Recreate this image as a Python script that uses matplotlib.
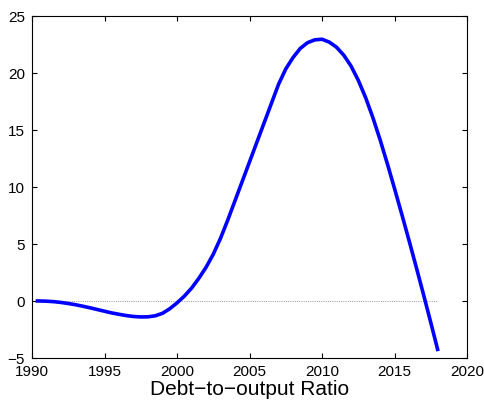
import matplotlib
matplotlib.use('Agg')
import matplotlib.pyplot as plt
import numpy as np

plt.rcParams['font.family'] = ['Liberation Sans', 'DejaVu Sans']
plt.rcParams['axes.unicode_minus'] = True

# half-yearly observations, first one in spring 1990
years = np.concatenate([[1990.25], np.arange(1990.5, 2018.01, 0.5)])
ratio = [0.0, 0.0, -0.02, -0.06, -0.13, -0.22, -0.33, -0.46, -0.6, -0.75,
         -0.9, -1.05, -1.17, -1.28, -1.36, -1.4, -1.39, -1.3, -1.08, -0.68,
         -0.17, 0.42, 1.12, 1.98, 2.95, 4.1, 5.5, 7.1, 8.8, 10.5,
         12.2, 13.9, 15.6, 17.3, 19.0, 20.35, 21.35, 22.15, 22.65, 22.9,
         22.95, 22.7, 22.25, 21.55, 20.6, 19.35, 17.85, 16.1, 14.15, 12.05,
         9.85, 7.6, 5.3, 2.95, 0.55, -1.9, -4.4]
xticks = [1990, 1995, 2000, 2005, 2010, 2015, 2020]
yticks = [-5, 0, 5, 10, 15, 20, 25]

fig = plt.figure(figsize=(4.85, 4.02), dpi=100)
ax = fig.add_axes([0.066, 0.107, 0.897, 0.851])

ax.plot(years, np.zeros(len(years)), ':', color='0.45', linewidth=0.6)
ax.plot(years, ratio, '-', color='#0000ff', linewidth=2.6, solid_capstyle='butt')

ax.set_xlim(1990, 2020)
ax.set_ylim(-5, 25)
ax.set_xticks(xticks)
ax.set_yticks(yticks)
ax.tick_params(direction='in', top=True, right=True, length=3.5, width=0.8,
               labelsize=11, pad=5)
ax.tick_params(axis='x', pad=4)
for s in ax.spines.values():
    s.set_linewidth(0.8)
ax.set_xlabel('Debt\u2212to\u2212output Ratio', fontsize=15, labelpad=1)

fig.savefig('out.png', dpi=100)
